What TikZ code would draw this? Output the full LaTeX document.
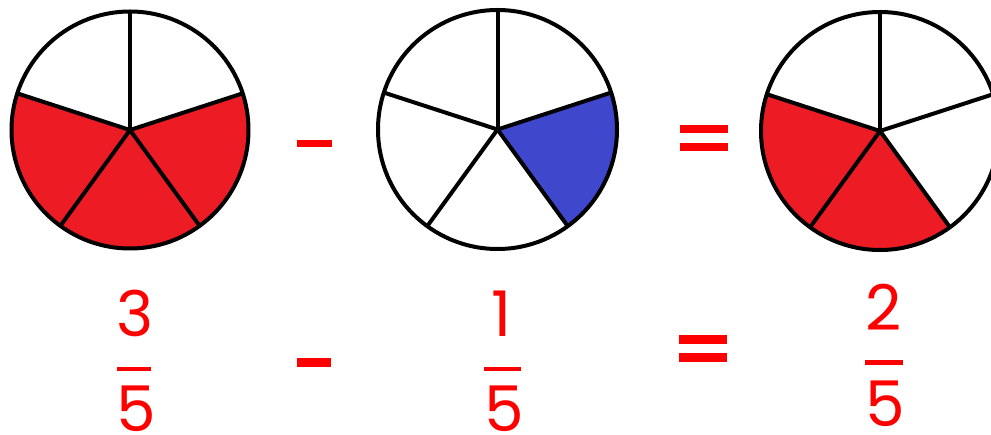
\documentclass[tikz,border=0pt]{standalone}
\usepackage{fontspec}
\newfontfamily\digitfont{Poppins}
\definecolor{piered}{HTML}{ED1C24}
\definecolor{pieblue}{HTML}{3F48CC}
\definecolor{txtred}{HTML}{FF0000}
\begin{document}
\begin{tikzpicture}[x=1pt,y=1pt,
  outline/.style={line width=4pt,black},
  barsign/.style={rectangle,fill=txtred,inner sep=0pt,draw=none},
  digit/.style={text=txtred,inner sep=0pt,anchor=base,font=\digitfont\fontsize{63}{63}\selectfont}]
\useasboundingbox (0,0) rectangle (991,434);
\clip (0,0) rectangle (991,434);
% pie centres
\coordinate (c1) at (130,304);
\coordinate (c2) at (497.5,304.5);
\coordinate (c3) at (880,303);
\def\ra{118.5}
\def\rb{119.5}
\def\rc{119}
% fills
\fill[piered] (c1) -- ++(162:\ra) arc[start angle=162,end angle=378,radius=\ra] -- cycle;
\fill[pieblue] (c2) -- ++(306:\rb) arc[start angle=306,end angle=378,radius=\rb] -- cycle;
\fill[piered] (c3) -- ++(162:\rc) arc[start angle=162,end angle=306,radius=\rc] -- cycle;
% spokes and circles
\foreach \a in {90,18,162,234,306}{
  \draw[outline] (c1) -- ++(\a:\ra);
  \draw[outline] (c2) -- ++(\a:\rb);
  \draw[outline] (c3) -- ++(\a:\rc);
}
\draw[outline] (c1) circle[radius=\ra];
\draw[outline] (c2) circle[radius=\rb];
\draw[outline] (c3) circle[radius=\rc];
% top signs
\node[barsign,minimum width=35pt,minimum height=7pt] (tminus) at (314.5,290.5) {};
\node[barsign,minimum width=48pt,minimum height=8pt] (teq1) at (704,305) {};
\node[barsign,minimum width=48pt,minimum height=8pt] (teq2) at (704,287) {};
% bottom signs
\node[barsign,minimum width=34pt,minimum height=9pt] (bminus) at (314,71.5) {};
\node[barsign,minimum width=48pt,minimum height=9pt] (beq1) at (703,94.5) {};
\node[barsign,minimum width=48pt,minimum height=9pt] (beq2) at (703,76.5) {};
% fractions
\node[digit] (n1) at (135,97) {3};
\node[barsign,minimum width=34pt,minimum height=4pt] (f1) at (134,65) {};
\node[digit] (d1) at (136,3) {5};
\node[digit] (n2) at (501.5,97) {1};
\node[barsign,minimum width=37pt,minimum height=4pt] (f2) at (502.5,64.5) {};
\node[digit] (d2) at (504,3) {5};
\node[digit] (n3) at (884,103) {2};
\node[barsign,minimum width=38pt,minimum height=5pt] (f3) at (884,71.5) {};
\node[digit] (d3) at (885,8) {5};
\end{tikzpicture}
\end{document}
